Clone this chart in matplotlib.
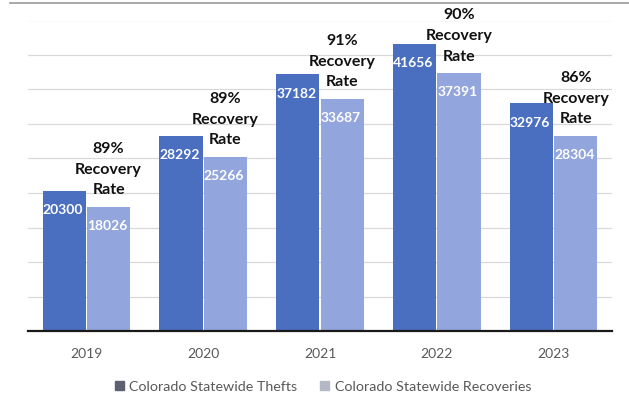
import matplotlib
matplotlib.use("Agg")
import matplotlib.pyplot as plt
from matplotlib.lines import Line2D
from matplotlib.patches import Patch
import numpy as np

plt.rcParams['font.family'] = ['Lato', 'DejaVu Sans']

years = ["2019", "2020", "2021", "2022", "2023"]
thefts = [20300, 28292, 37182, 41656, 32976]
recoveries = [18026, 25266, 33687, 37391, 28304]
recovery_rates = ["89%", "89%", "91%", "90%", "86%"]

theft_color = "#4a6fc0"
recovery_color = "#92a5dc"

fig = plt.figure(figsize=(6.29, 3.98), dpi=100)
ax = fig.add_axes([28 / 629, 67 / 398, 584 / 629, 310.5 / 398])

x = np.arange(len(years))
width = 0.37
gap = 0.01

bars_t = ax.bar(x - width / 2 - gap / 2, thefts, width, color=theft_color, zorder=2)
bars_r = ax.bar(x + width / 2 + gap / 2, recoveries, width, color=recovery_color, zorder=2)

ax.set_xlim(-0.5, len(years) - 0.5)
ax.set_ylim(0, 45000)
ax.set_yticks(np.arange(0, 45001, 5000))
ax.yaxis.grid(True, color="#d9d9d9", linewidth=0.9, zorder=0)
ax.tick_params(axis="y", left=False, labelleft=False)
ax.tick_params(axis="x", bottom=False, labelsize=10, labelcolor="#595959", pad=9)
ax.set_xticks(x)
ax.set_xticklabels(years)
for side in ["top", "right", "left"]:
    ax.spines[side].set_visible(False)
ax.spines["bottom"].set_color("#1a1a1a")
ax.spines["bottom"].set_linewidth(1.6)
ax.spines["bottom"].set_zorder(3)

# value labels inside the top of each bar
for bars, vals in [(bars_t, thefts), (bars_r, recoveries)]:
    for b, v in zip(bars, vals):
        ax.annotate(str(v), xy=(b.get_x(), v), xytext=(0, -14),
                    textcoords="offset points", ha="left", va="center",
                    color="white", fontsize=10, fontweight="bold", zorder=4)

# recovery rate above each recoveries bar, one line per text
line_step = 14.8
for b, v, rate in zip(bars_r, recoveries, recovery_rates):
    cx = b.get_x() + b.get_width() / 2
    for i, line in enumerate(["Rate", "Recovery", rate]):
        ax.annotate(line, xy=(cx, v), xytext=(0, 9 + i * line_step),
                    textcoords="offset points", ha="center", va="baseline",
                    fontsize=11.5, fontweight="bold", color="#111111",
                    annotation_clip=False, zorder=4)

# thin rule across the top of the chart area
fig.add_artist(Line2D([10 / 629, 1], [1 - 3 / 398, 1 - 3 / 398],
                      color="#9a9a9a", linewidth=1.2))

handles = [Patch(color="#5c6070"), Patch(color="#b4b8c6")]
fig.legend(handles, ["Colorado Statewide Thefts", "Colorado Statewide Recoveries"],
           loc="center", bbox_to_anchor=(323 / 629, 11 / 398), ncol=2, frameon=False,
           fontsize=10.3, labelcolor="#595959", handlelength=0.6, handleheight=0.6,
           handletextpad=0.4, columnspacing=1.6)

fig.savefig("out.png", dpi=100)
